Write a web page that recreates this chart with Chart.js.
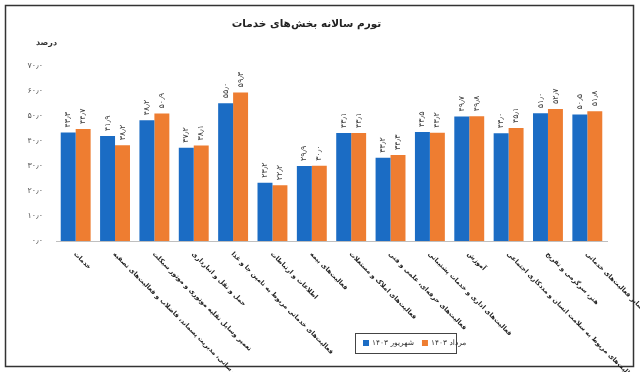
<!DOCTYPE html>
<html>
<head>
<meta charset="utf-8">
<script src="https://cdn.jsdelivr.net/npm/chart.js@4/dist/chart.umd.min.js"></script>
<style>
  html, body { margin: 0; padding: 0; background: #fff; }
  #wrap { position: relative; width: 640px; height: 372px; }
</style>
</head>
<body>
<div id="wrap"><canvas id="chart" width="640" height="372"></canvas></div>
<script>
// categories, left to right as in the picture
var CATEGORIES = [
  'خدمات',
  'آب‌رسانی، مدیریت پسماند، فاضلاب و فعالیت‌های تصفیه',
  'تعمیر وسایل نقلیه موتوری و موتور سیکلت',
  'حمل و نقل و انبارداری',
  'فعالیت‌های خدماتی مربوط به تامین جا و غذا',
  'اطلاعات و ارتباطات',
  'فعالیت‌های بیمه',
  'فعالیت‌های املاک و مستغلات',
  'فعالیت‌های حرفه‌ای، علمی و فنی',
  'فعالیت‌های اداری و خدمات پشتیبانی',
  'آموزش',
  'فعالیت‌های مربوط به سلامت انسان و مددکاری اجتماعی',
  'هنر، سرگرمی و تفریح',
  'سایر فعالیت‌های خدماتی'
];
var SERIES_NAMES = ['شهریور ۱۴۰۳', 'مرداد ۱۴۰۳'];
var SHAHRIVAR = [43.3, 41.9, 48.2, 37.2, 55.0, 23.2, 29.9, 43.1, 33.2, 43.5, 49.7, 43.0, 51.0, 50.5];
var MORDAD    = [44.7, 38.2, 50.9, 38.1, 59.3, 22.2, 30.0, 43.1, 34.3, 43.2, 49.8, 45.1, 52.7, 51.8];
var Y_TICK_LABELS = ['۰٫۰', '۱۰٫۰', '۲۰٫۰', '۳۰٫۰', '۴۰٫۰', '۵۰٫۰', '۶۰٫۰', '۷۰٫۰'];
var TITLE = 'تورم سالانه بخش‌های خدمات';
var UNIT = 'درصد';

var FONT = '"DejaVu Sans", sans-serif';
var BLUE = '#1b6cc4';
var ORANGE = '#ee7d31';

function fa(n) {
  return n.toFixed(1).replace('.', '٫').replace(/\d/g, function (d) { return '۰۱۲۳۴۵۶۷۸۹'[d]; });
}

// frame + unit text
var frame = {
  id: 'frame',
  beforeDraw: function (chart) {
    var ctx = chart.ctx;
    ctx.save();
    ctx.fillStyle = '#fff';
    ctx.fillRect(0, 0, chart.width, chart.height);
    ctx.strokeStyle = '#333';
    ctx.lineWidth = 1.5;
    ctx.strokeRect(5.5, 5.5, 628, 361);
    ctx.font = 'bold 8px ' + FONT;
    ctx.fillStyle = '#333';
    ctx.textAlign = 'right';
    ctx.textBaseline = 'middle';
    ctx.fillText(UNIT, 57, 43);
    ctx.restore();
  }
};

// rotated numbers above each bar
var valueLabels = {
  id: 'valueLabels',
  afterDatasetsDraw: function (chart) {
    var ctx = chart.ctx;
    ctx.save();
    ctx.font = '8px ' + FONT;
    ctx.fillStyle = '#404040';
    ctx.textAlign = 'left';
    ctx.textBaseline = 'middle';
    chart.data.datasets.forEach(function (ds, i) {
      chart.getDatasetMeta(i).data.forEach(function (bar, j) {
        ctx.save();
        ctx.translate(bar.x, bar.y - 5);
        ctx.rotate(-Math.PI / 2);
        ctx.fillText(fa(ds.data[j]), 0, 0);
        ctx.restore();
      });
    });
    ctx.restore();
  }
};

// category names, slanted down to the right
var xLabels = {
  id: 'xLabels',
  afterDraw: function (chart) {
    var ctx = chart.ctx;
    var xs = chart.scales.x;
    var y0 = chart.chartArea.bottom + 12;
    ctx.save();
    ctx.font = 'bold 6.5px ' + FONT;
    ctx.fillStyle = '#222';
    ctx.direction = 'rtl';
    ctx.textAlign = 'left';
    ctx.textBaseline = 'middle';
    chart.data.labels.forEach(function (lab, i) {
      ctx.save();
      ctx.translate(xs.getPixelForValue(i) - 1, y0);
      ctx.rotate(Math.PI / 4);
      ctx.fillText(lab, 0, 0);
      ctx.restore();
    });
    ctx.restore();
  }
};

// boxed legend
var boxLegend = {
  id: 'boxLegend',
  afterDraw: function (chart) {
    var ctx = chart.ctx;
    ctx.save();
    ctx.strokeStyle = '#444';
    ctx.lineWidth = 1;
    ctx.fillStyle = '#fff';
    ctx.fillRect(355.5, 333.5, 101, 20);
    ctx.strokeRect(355.5, 333.5, 101, 20);
    ctx.font = '7.5px ' + FONT;
    ctx.textBaseline = 'middle';
    ctx.direction = 'rtl';
    ctx.textAlign = 'left';
    var x = 363;
    chart.data.datasets.forEach(function (ds) {
      ctx.fillStyle = ds.backgroundColor;
      ctx.fillRect(x, 340, 6, 6);
      ctx.fillStyle = '#333';
      ctx.fillText(ds.label, x + 9, 343.5);
      x += 9 + ctx.measureText(ds.label).width + 8;
    });
    ctx.restore();
  }
};

new Chart(document.getElementById('chart'), {
  type: 'bar',
  data: {
    labels: CATEGORIES,
    datasets: [
      { label: SERIES_NAMES[0], data: SHAHRIVAR, backgroundColor: BLUE },
      { label: SERIES_NAMES[1], data: MORDAD, backgroundColor: ORANGE }
    ]
  },
  options: {
    responsive: false,
    animation: false,
    devicePixelRatio: 1,
    layout: { padding: { left: 6, right: 33, top: 6, bottom: 0 } },
    datasets: { bar: { categoryPercentage: 0.76, barPercentage: 1.0 } },
    plugins: {
      legend: { display: false },
      tooltip: { enabled: false },
      title: {
        display: true,
        text: TITLE,
        color: '#222',
        font: { family: FONT, size: 10.5, weight: 'bold' },
        padding: { top: 12, bottom: 35 }
      }
    },
    scales: {
      x: {
        grid: { display: false },
        border: { color: '#bfbfbf' },
        ticks: { display: false },
        // room for the slanted category names
        afterFit: function (s) { s.height = 131; }
      },
      y: {
        min: 0,
        max: 70,
        grid: { display: false },
        border: { display: false },
        ticks: {
          stepSize: 10,
          padding: 5,
          color: '#595959',
          font: { family: FONT, size: 8 },
          callback: function (v, i) { return Y_TICK_LABELS[i]; }
        },
        afterFit: function (s) { s.width = 50; }
      }
    }
  },
  plugins: [frame, valueLabels, xLabels, boxLegend]
});
</script>
</body>
</html>
